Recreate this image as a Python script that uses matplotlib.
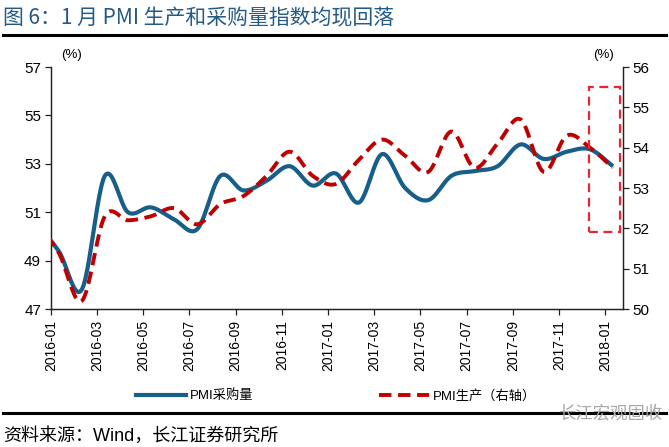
import numpy as np
import matplotlib
matplotlib.use("Agg")
from matplotlib import pyplot as plt
from matplotlib.lines import Line2D
from matplotlib.patches import Rectangle

plt.rcParams['font.family'] = ['Liberation Sans', 'Noto Sans CJK SC', 'DejaVu Sans']

# monthly data, 2015-12 .. 2018-01 (first month sits just left of the axis, clipped)
months = ["2015-12",
          "2016-01", "2016-02", "2016-03", "2016-04", "2016-05", "2016-06",
          "2016-07", "2016-08", "2016-09", "2016-10", "2016-11", "2016-12",
          "2017-01", "2017-02", "2017-03", "2017-04", "2017-05", "2017-06",
          "2017-07", "2017-08", "2017-09", "2017-10", "2017-11", "2017-12",
          "2018-01"]
purchase = [50.5,
            49.4, 47.8, 52.5, 51.0, 51.2, 50.7, 50.3, 52.5, 51.9, 52.3, 52.9, 52.1,
            52.6, 51.4, 53.4, 52.0, 51.5, 52.5, 52.7, 52.9, 53.8, 53.2, 53.5, 53.6,
            52.9]
production = [52.2,
              51.4, 50.2, 52.3, 52.2, 52.3, 52.5, 52.1, 52.6, 52.8, 53.3, 53.9, 53.3,
              53.1, 53.7, 54.2, 53.8, 53.4, 54.4, 53.5, 54.1, 54.7, 53.4, 54.3, 54.0,
              53.5]
tick_labels = ["2016-01", "2016-03", "2016-05", "2016-07", "2016-09", "2016-11",
               "2017-01", "2017-03", "2017-05", "2017-07", "2017-09", "2017-11",
               "2018-01"]

BLUE = "#175E8B"
RED = "#C00000"


def smooth(x, y, n=24):
    """ Catmull-Rom curve through the points, like Excel's smoothed line """
    x = np.asarray(x, float)
    y = np.asarray(y, float)
    m = np.empty_like(y)
    m[1:-1] = (y[2:] - y[:-2]) / 2
    m[0] = y[1] - y[0]
    m[-1] = y[-1] - y[-2]
    t = np.linspace(0, 1, n, endpoint=False)
    h00 = 2 * t**3 - 3 * t**2 + 1
    h10 = t**3 - 2 * t**2 + t
    h01 = -2 * t**3 + 3 * t**2
    h11 = t**3 - t**2
    xs, ys = [], []
    for i in range(len(y) - 1):
        xs.append(x[i] + t * (x[i + 1] - x[i]))
        ys.append(h00 * y[i] + h10 * m[i] + h01 * y[i + 1] + h11 * m[i + 1])
    xs.append([x[-1]])
    ys.append([y[-1]])
    return np.concatenate(xs), np.concatenate(ys)


x = np.arange(len(months)) - 1  # 2016-01 -> 0
offset = 0.34                   # ticks sit a little before the data points

fig = plt.figure(figsize=(6.69, 4.47), dpi=100)
ax = fig.add_axes([0.0759, 0.3087, 0.9312 - 0.0759, 0.8501 - 0.3087])
ax2 = ax.twinx()

bx, by = smooth(x, purchase)
ax.plot(bx, by, color=BLUE, lw=3.0, solid_capstyle="butt", zorder=3)
rx, ry = smooth(x, production)
ax2.plot(rx, ry, color=RED, lw=2.8, linestyle=(0, (3.2, 1.7)), dash_capstyle="butt", zorder=3)

ax.set_xlim(-offset, 24.43)
ax.set_ylim(47, 57)
ax2.set_ylim(50, 56)
ax.set_yticks(np.arange(47, 58, 2))
ax2.set_yticks(np.arange(50, 57, 1))
ax.set_xticks(np.arange(len(tick_labels)) * 2 - offset)
ax.set_xticklabels(tick_labels, rotation=90)

for a in (ax, ax2):
    a.spines["top"].set_visible(False)
    for s in a.spines.values():
        s.set_color("#222222")
        s.set_linewidth(0.9)
    a.tick_params(length=4, width=0.9, color="#222222", labelsize=11, pad=3)
ax.tick_params(axis="x", labelsize=10, pad=4)

# highlight box on the latest months (right axis units)
ax2.add_patch(Rectangle((x[-2] - 0.05, 51.9), 1.35, 3.6, fill=False, edgecolor="#E8262B",
                        lw=1.6, linestyle=(0, (4, 2.5)), zorder=4, clip_on=False))

fig.text(72 / 669, 1 - 55 / 447, "(%)", fontsize=9.5, ha="center", va="center")
fig.text(604 / 669, 1 - 55 / 447, "(%)", fontsize=9.5, ha="center", va="center")

# title and rules
fig.text(3 / 669, 1 - 18 / 447, "图 6：1 月 PMI 生产和采购量指数均现回落", fontsize=15,
         color="#245A86", ha="left", va="center", family=["Noto Sans CJK SC"])
fig.add_artist(Line2D([3 / 669, 666 / 669], [1 - 35 / 447] * 2, color="black", lw=2.2))
fig.add_artist(Line2D([3 / 669, 666 / 669], [1 - 413 / 447] * 2, color="black", lw=2.2))

handles = [Line2D([], [], color=BLUE, lw=3.0),
           Line2D([], [], color=RED, lw=2.8, linestyle=(0, (3.2, 1.7)))]
fig.legend(handles, ["PMI采购量", "PMI生产（右轴）"], loc="center",
           bbox_to_anchor=(336 / 669, 1 - 396 / 447), ncol=2, frameon=False,
           fontsize=9.5, handlelength=3.8, handletextpad=0.3, columnspacing=9.5)

fig.text(3 / 669, 1 - 436 / 447, "资料来源：Wind，长江证券研究所", fontsize=13,
         ha="left", va="center")
fig.text(662 / 669, 1 - 413 / 447, "长江宏观固收", fontsize=12.5, color="#A8A8A8",
         ha="right", va="center", family=["Noto Sans CJK SC"])

fig.savefig("out.png", dpi=100)
